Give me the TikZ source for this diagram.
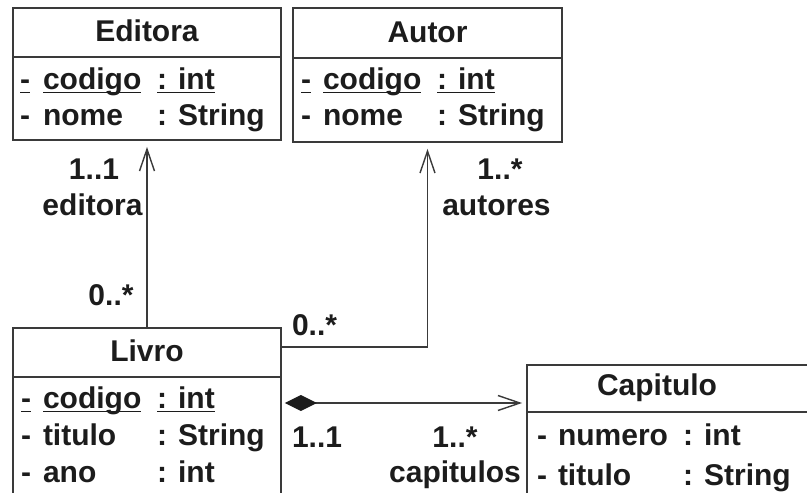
\documentclass[tikz,border=0pt]{standalone}
\usepackage{fontspec}
\setmainfont{Liberation Sans}
\usetikzlibrary{arrows.meta}
\definecolor{ink}{HTML}{1C1C1C}
\definecolor{linec}{HTML}{3A3A3A}
\tikzset{
  classbox/.style={draw=linec, line width=1.8pt, rectangle, inner sep=0pt},
  sepline/.style={draw=linec, line width=1.6pt},
  txt/.style={inner sep=0pt, outer sep=0pt, text=ink, font=\fontsize{30}{34}\selectfont\bfseries},
  uline/.style={draw=ink, line width=1.4pt},
  assoc/.style={draw=linec, line width=1.4pt, -{Straight Barb[length=22pt,width=15pt,line width=1.4pt]}, shorten >=6pt},
  comp/.style={draw=linec, line width=1.4pt, {Diamond[length=32pt,width=16pt,fill=ink,color=ink]}-{Straight Barb[length=22pt,width=15pt,line width=1.4pt]}, shorten <=3pt, shorten >=4pt}
}
\begin{document}
\begin{tikzpicture}[x=1pt,y=-1pt]
\useasboundingbox (0,0) rectangle (807,493);
\begin{scope}
\clip (0,0) rectangle (807,493);
% class boxes
\node[classbox, minimum width=268, minimum height=132] (editora) at (147,74) {};
\node[classbox, minimum width=269, minimum height=134] (autor) at (427.5,75) {};
\node[classbox, minimum width=268, minimum height=180] (livro) at (147,418) {};
\node[classbox, minimum width=285, minimum height=140] (capitulo) at (669.5,435) {};
\coordinate (e57) at (0,57);
\coordinate (a58) at (0,58);
\coordinate (l377) at (0,377);
\coordinate (c412) at (0,412);
\draw[sepline] (editora.west |- e57) -- (editora.east |- e57);
\draw[sepline] (autor.west |- a58) -- (autor.east |- a58);
\draw[sepline] (livro.west |- l377) -- (livro.east |- l377);
\draw[sepline] (capitulo.west |- c412) -- (capitulo.east |- c412);
\end{scope}

% titles
\node[txt, anchor=base] (tEd) at (147,41) {Editora};
\node[txt, anchor=base] (tAu) at (427.5,42) {Autor};
\node[txt, anchor=base] (tLi) at (147,361) {Livro};
\node[txt, anchor=base] (tCa) at (657,395) {Capitulo};

% Editora attributes
\node[txt, anchor=base west] (ed1) at (20,89) {-};
\node[txt, anchor=base west] (ed2) at (43,89) {codigo};
\node[txt, anchor=base west] (ed3) at (157,89) {: int};
\node[txt, anchor=base west] (ed4) at (20,125) {-};
\node[txt, anchor=base west] (ed5) at (43,125) {nome};
\node[txt, anchor=base west] (ed6) at (157,125) {: String};
\foreach \n in {ed1,ed2,ed3}{\draw[uline] ([yshift=-3.5pt]\n.base west) -- ([yshift=-3.5pt]\n.base east);}

% Autor attributes
\node[txt, anchor=base west] (au1) at (301,89) {-};
\node[txt, anchor=base west] (au2) at (323,89) {codigo};
\node[txt, anchor=base west] (au3) at (437,89) {: int};
\node[txt, anchor=base west] (au4) at (301,125) {-};
\node[txt, anchor=base west] (au5) at (323,125) {nome};
\node[txt, anchor=base west] (au6) at (437,125) {: String};
\foreach \n in {au1,au2,au3}{\draw[uline] ([yshift=-3.5pt]\n.base west) -- ([yshift=-3.5pt]\n.base east);}

% Livro attributes
\node[txt, anchor=base west] (li1) at (21,408) {-};
\node[txt, anchor=base west] (li2) at (43,408) {codigo};
\node[txt, anchor=base west] (li3) at (157,408) {: int};
\node[txt, anchor=base west] (li4) at (21,445) {-};
\node[txt, anchor=base west] (li5) at (43,445) {titulo};
\node[txt, anchor=base west] (li6) at (157,445) {: String};
\node[txt, anchor=base west] (li7) at (21,482) {-};
\node[txt, anchor=base west] (li8) at (43,482) {ano};
\node[txt, anchor=base west] (li9) at (157,482) {: int};
\foreach \n in {li1,li2,li3}{\draw[uline] ([yshift=-3.5pt]\n.base west) -- ([yshift=-3.5pt]\n.base east);}

% Capitulo attributes
\node[txt, anchor=base west] (ca1) at (537,445) {-};
\node[txt, anchor=base west] (ca2) at (558,445) {numero};
\node[txt, anchor=base west] (ca3) at (683,445) {: int};
\node[txt, anchor=base west] (ca4) at (537,485) {-};
\node[txt, anchor=base west] (ca5) at (558,485) {titulo};
\node[txt, anchor=base west] (ca6) at (683,485) {: String};

% connectors
\draw[assoc] (livro.north) -- (editora.south);
\coordinate (ay) at (0,347);
\draw[assoc] (livro.east |- ay) -| (autor.south);
\coordinate (cy) at (0,403);
\draw[comp] (livro.east |- cy) -- (capitulo.west |- cy);

% multiplicities and role names
\node[txt, anchor=base] (m1) at (94,179) {1..1};
\node[txt, anchor=base] (r1) at (92.5,215) {editora};
\node[txt, anchor=base] (m2) at (111,305) {0..*};
\node[txt, anchor=base] (m3) at (500,179) {1..*};
\node[txt, anchor=base] (r2) at (496.5,215) {autores};
\node[txt, anchor=base west] (m4) at (292,335) {0..*};
\node[txt, anchor=base west] (m5) at (292,447) {1..1};
\node[txt, anchor=base] (m6) at (455,447) {1..*};
\node[txt, anchor=base] (r3) at (455,482) {capitulos};
\end{tikzpicture}
\end{document}
